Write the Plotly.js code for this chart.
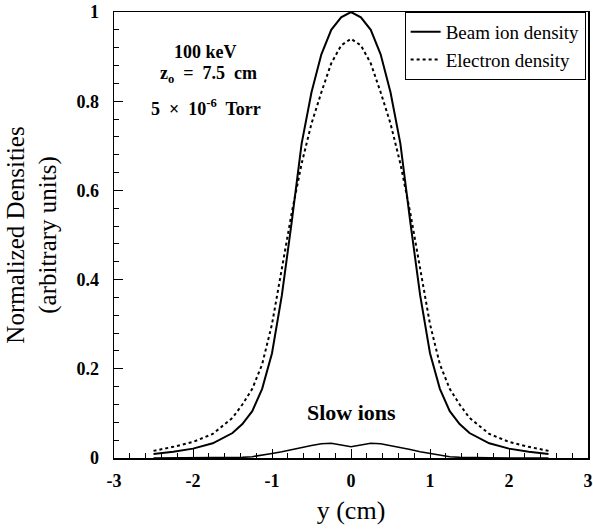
<!DOCTYPE html>
<html>
<head>
<meta charset="utf-8">
<script src="https://cdn.plot.ly/plotly-3.0.1.min.js"></script>
<style>html,body{margin:0;padding:0;background:#fff}#chart{width:593px;height:531px}</style>
</head>
<body>
<div id="chart"></div>
<script>
// positions along y (cm)
const yPos = [-2.5,-2.25,-2,-1.75,-1.5,-1.375,-1.25,-1.125,-1,-0.875,-0.75,-0.625,-0.5,-0.375,-0.25,-0.125,0,
              0.125,0.25,0.375,0.5,0.625,0.75,0.875,1,1.125,1.25,1.375,1.5,1.75,2,2.25,2.5];
// beam ion density (solid)
const beamIon = [0.009,0.014,0.021,0.033,0.056,0.076,0.105,0.155,0.235,0.365,0.530,0.705,0.820,0.905,0.960,0.988,1.000,
                 0.988,0.960,0.905,0.820,0.705,0.530,0.365,0.235,0.155,0.105,0.076,0.056,0.033,0.021,0.014,0.009];
// electron density (dotted)
const electron = [0.016,0.025,0.036,0.054,0.090,0.120,0.155,0.210,0.300,0.425,0.550,0.660,0.750,0.820,0.885,0.925,0.940,
                  0.925,0.885,0.820,0.750,0.660,0.550,0.425,0.300,0.210,0.155,0.120,0.090,0.054,0.036,0.025,0.016];
// slow ions
const slowIons = [0,0,0,0.0003,0.0008,0.0015,0.003,0.006,0.010,0.014,0.019,0.024,0.028,0.032,0.033,0.029,0.025,
                  0.029,0.033,0.032,0.028,0.024,0.019,0.014,0.010,0.006,0.003,0.0015,0.0008,0.0003,0,0,0];

const xTickVals = [-3,-2,-1,0,1,2,3];
const xTickText = ['-3','-2','-1','0','1','2','3'];
const yTickVals = [0,0.2,0.4,0.6,0.8,1];
const yTickText = ['0','0.2','0.4','0.6','0.8','1'];

const serif = 'Liberation Serif, Times New Roman, serif';

const traces = [
  {x: yPos, y: beamIon, mode: 'lines', name: 'Beam ion density',
   line: {color: '#000', width: 2, dash: 'solid'}},
  {x: yPos, y: electron, mode: 'lines', name: 'Electron density',
   line: {color: '#000', width: 2, dash: 'dot'}},
  {x: yPos, y: slowIons, mode: 'lines', name: 'Slow ions', showlegend: false,
   line: {color: '#000', width: 1.5}}
];

const layout = {
  width: 593, height: 531,
  margin: {l: 114, r: 5, t: 12, b: 73},
  paper_bgcolor: '#fff', plot_bgcolor: '#fff',
  font: {family: serif, color: '#000'},
  showlegend: true,
  legend: {x: 0.995, xanchor: 'right', y: 1, yanchor: 'top',
           bordercolor: '#000', borderwidth: 1, bgcolor: '#fff',
           font: {family: serif, size: 19, color: '#000'},
           itemwidth: 30, tracegroupgap: 0},
  xaxis: {range: [-3, 3], tickmode: 'array', tickvals: xTickVals, ticktext: xTickText,
          ticks: 'inside', ticklen: 9, tickwidth: 1, tickcolor: '#000',
          showline: true, linecolor: '#000', linewidth: 1.5, mirror: true,
          showgrid: false, zeroline: false,
          tickfont: {family: serif, size: 18, weight: 'bold', color: '#000'},
          ticklabelstandoff: 6,
          minor: {dtick: 0.2, ticks: 'inside', ticklen: 5, tickcolor: '#000', tickwidth: 1, showgrid: false},
          title: {text: 'y (cm)', font: {family: serif, size: 26, color: '#000'}, standoff: 10}},
  yaxis: {range: [0, 1], tickmode: 'array', tickvals: yTickVals, ticktext: yTickText,
          ticks: 'inside', ticklen: 9, tickwidth: 1, tickcolor: '#000',
          showline: true, linecolor: '#000', linewidth: 1.5, mirror: true,
          showgrid: false, zeroline: false,
          tickfont: {family: serif, size: 18, weight: 'bold', color: '#000'},
          ticklabelstandoff: 10,
          minor: {dtick: 0.04, ticks: 'inside', ticklen: 5, tickcolor: '#000', tickwidth: 1, showgrid: false},
          title: {text: 'Normalized Densities<br>(arbitrary units)', font: {family: serif, size: 25, color: '#000'}, standoff: 12}},
  annotations: [
    {x: -1.84, y: 0.91, xref: 'x', yref: 'y', text: '<b>100 keV</b>', showarrow: false,
     font: {family: serif, size: 18, color: '#000'}},
    {x: -1.80, y: 0.86, xref: 'x', yref: 'y', text: '<b>z<sub>o</sub>  =  7.5  cm</b>', showarrow: false,
     font: {family: serif, size: 18, color: '#000'}},
    {x: -1.84, y: 0.785, xref: 'x', yref: 'y', text: '<b>5  ×  10<sup>-6</sup>  Torr</b>', showarrow: false,
     font: {family: serif, size: 18, color: '#000'}},
    {x: 0, y: 0.103, xref: 'x', yref: 'y', text: '<b>Slow ions</b>', showarrow: false,
     font: {family: serif, size: 22, color: '#000'}}
  ]
};

Plotly.newPlot('chart', traces, layout, {staticPlot: true, displayModeBar: false});
</script>
</body>
</html>
